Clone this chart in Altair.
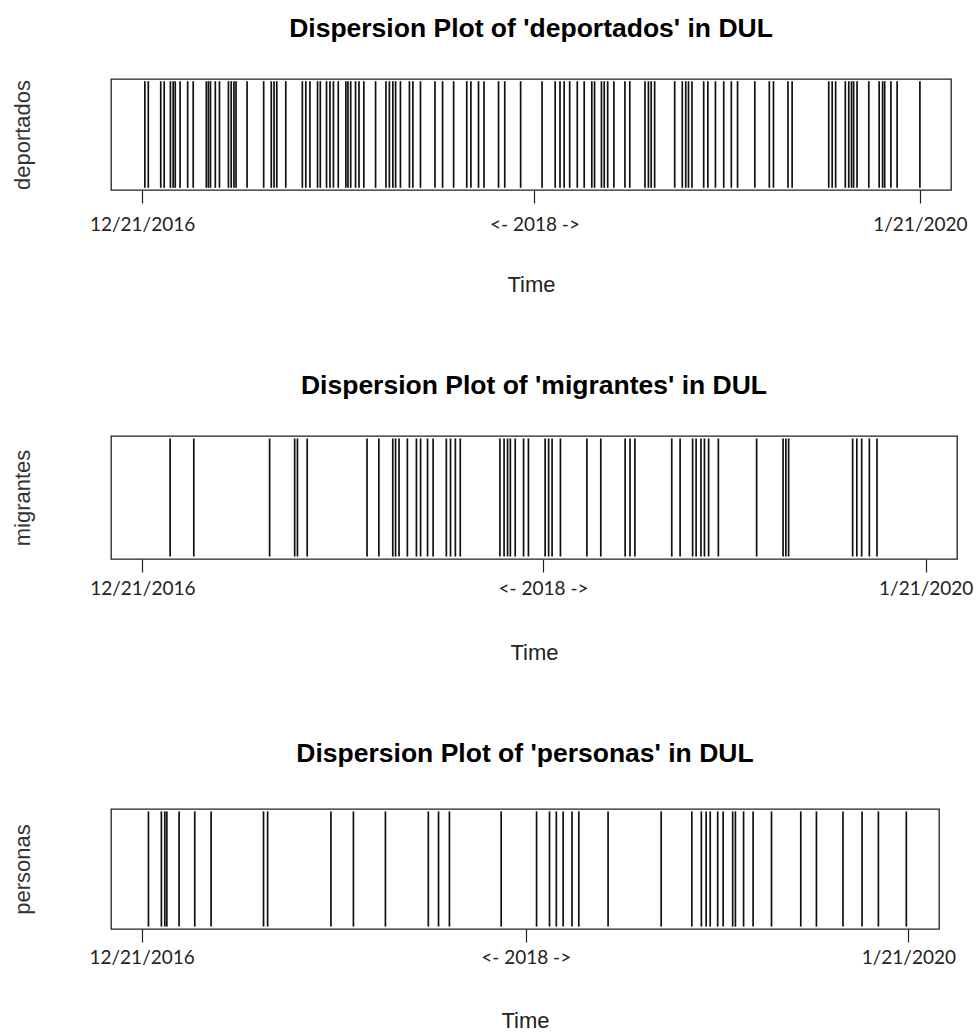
import altair as alt
import pandas as pd

# ---- data (days since 12/21/2016) ----
terms = ["deportados", "migrantes", "personas"]

deportados_days = [4, 9, 27, 32, 41, 45, 48, 55, 66, 74, 93, 96, 99, 106, 112, 125, 129, 133,
                   136, 152, 176, 187, 191, 195, 208, 232, 237, 243, 254, 258, 267, 272, 277,
                   284, 295, 298, 302, 309, 314, 321, 338, 353, 358, 363, 367, 374, 387, 392,
                   403, 424, 435, 451, 470, 476, 487, 495, 516, 525, 548, 579, 598, 605, 611,
                   619, 630, 640, 651, 655, 665, 669, 674, 683, 699, 706, 728, 733, 737, 742,
                   771, 782, 787, 791, 796, 813, 819, 830, 842, 853, 862, 887, 908, 914, 935,
                   941, 994, 999, 1004, 1018, 1023, 1027, 1030, 1035, 1052, 1067, 1072, 1075,
                   1084, 1093, 1126]

migrantes_days = [40, 74, 183, 219, 223, 237, 323, 340, 360, 364, 369, 381, 394, 400, 410,
                  418, 437, 443, 450, 457, 514, 520, 525, 529, 536, 548, 555, 579, 584, 589,
                  601, 639, 659, 694, 701, 708, 761, 773, 791, 796, 803, 808, 814, 828, 883,
                  921, 925, 929, 1021, 1027, 1034, 1045, 1056]

personas_days = [10, 29, 34, 37, 55, 78, 102, 179, 185, 278, 311, 358, 421, 436, 452, 528,
                 580, 599, 609, 619, 632, 642, 685, 763, 808, 822, 829, 835, 846, 854, 868,
                 872, 884, 898, 925, 968, 991, 1030, 1058, 1082, 1123]

start_label = "12/21/2016"
mid_label = "<- 2018 ->"
end_label = "1/21/2020"
start_day = 0
end_day = 1126
mid_days = [568, 576, 564]
x_domain = [-45, 1171]

series = [deportados_days, migrantes_days, personas_days]

# ---- layout per panel ----
panel_w = [840, 846, 828]
panel_h = [111, 123, 120]
label_pad = [12, 7, 6]
time_pad = [40, 44, 43]
title_off = [16, 16, 21]

label_expr = (f"datum.value == {start_day} ? '{start_label}' : "
              f"(datum.value == {end_day} ? '{end_label}' : '{mid_label}')")


def panel(term, days, w, h, lp, tp, mid, toff):
    df = pd.DataFrame({"day": days})
    return alt.Chart(df).mark_rule(color="#111111", strokeWidth=1.7).encode(
        x=alt.X(
            "day:Q",
            scale=alt.Scale(domain=x_domain, nice=False, zero=False),
            axis=alt.Axis(
                values=[start_day, mid, end_day],
                labelExpr=label_expr,
                title="Time",
                domain=False,
                grid=False,
                ticks=True,
                tickSize=13,
                tickWidth=1.2,
                tickColor="#222222",
                labelFont="Lato",
                labelFontSize=19,
                labelColor="#222222",
                labelPadding=lp,
                labelOverlap=False,
                labelFlush=False,
                labelBound=False,
                titleFont="Liberation Sans",
                titleFontSize=22,
                titleFontWeight="normal",
                titleColor="#222222",
                titlePadding=tp,
            ),
        ),
        y=alt.datum(
            0.02,
            scale=alt.Scale(domain=[0, 1], nice=False),
            axis=alt.Axis(
                title=term,
                labels=False,
                ticks=False,
                domain=False,
                grid=False,
                minExtent=0,
                titleFont="Liberation Sans",
                titleFontSize=22,
                titleFontWeight="normal",
                titleColor="#333333",
                titlePadding=77,
            ),
        ),
        y2=alt.datum(0.98),
    ).properties(
        width=w,
        height=h,
        title=alt.TitleParams(
            text=f"Dispersion Plot of '{term}' in DUL",
            font="Liberation Sans",
            fontSize=26.5,
            fontWeight="bold",
            color="#000000",
            anchor="middle",
            frame="group",
            baseline="alphabetic",
            offset=toff,
        ),
    )


panels = [panel(t, s, w, h, lp, tp, m, to)
          for t, s, w, h, lp, tp, m, to in zip(terms, series, panel_w, panel_h,
                                                label_pad, time_pad, mid_days, title_off)]

chart = alt.vconcat(*panels, spacing=75).properties(
    padding={"left": 10, "top": 14, "right": 0, "bottom": 0},
    background="white",
).configure_view(stroke="#222222", strokeWidth=1.3)

chart.save("out.html", embed_options={"renderer": "svg", "actions": False})
